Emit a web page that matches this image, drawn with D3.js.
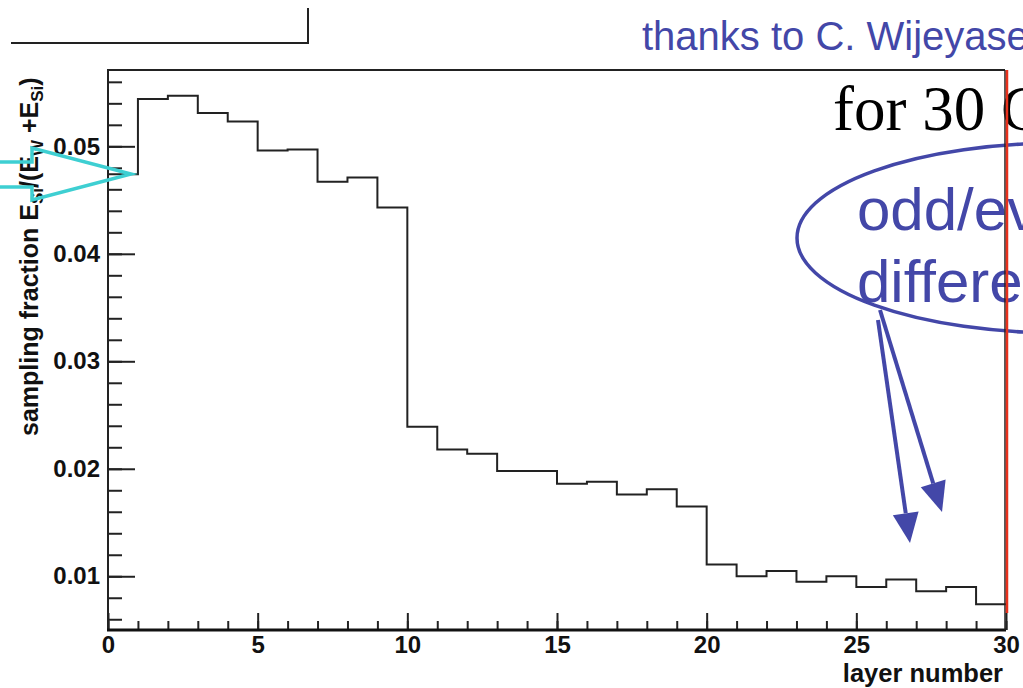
<!DOCTYPE html>
<html>
<head>
<meta charset="utf-8">
<script src="https://cdn.jsdelivr.net/npm/d3@7"></script>
<style>
  html, body { margin: 0; padding: 0; background: #fff; }
  svg { display: block; }
</style>
</head>
<body>
<svg id="chart" width="1023" height="688"></svg>
<script>
// layer index (lower bin edge) and sampling fraction per layer
var layers = d3.range(0, 30);
var samplingFraction = [
  0.0474, 0.0544, 0.0547, 0.0531, 0.0523, 0.0496, 0.0497, 0.0467, 0.0471, 0.0443,
  0.0239, 0.0218, 0.0214, 0.0198, 0.0198, 0.0186, 0.0188, 0.0176, 0.0181, 0.0165,
  0.0111, 0.0100, 0.0105, 0.0095, 0.0100, 0.0090, 0.0097, 0.0086, 0.0090, 0.0074
];
var xMajorTicks = [0, 5, 10, 15, 20, 25, 30];
var xMinorTicks = d3.range(0, 31);
var yMajorTicks = [0.01, 0.02, 0.03, 0.04, 0.05];
var yMinorTicks = d3.range(6, 57, 2).map(function (d) { return d / 1000; });

(function () {
  var svg = d3.select("#chart");
  var padL = 108, padR = 1006, padT = 70, padB = 630;
  var blue = "#4347a8";
  var font = "'Liberation Sans', Arial, Helvetica, sans-serif";

  var x = d3.scaleLinear().domain([0, 30]).range([padL, padR]);
  var y = d3.scaleLinear().domain([0.005, 0.0571]).range([padB, padT]);

  // frame
  svg.append("path")
    .attr("d", "M" + padL + "," + padB + "V" + padT + "H" + (padR - 1))
    .attr("fill", "none").attr("stroke", "#222").attr("stroke-width", 2);

  // histogram outline
  var steps = layers.map(function (l, i) { return [l, samplingFraction[i]]; });
  steps.push([30, samplingFraction[29]]);
  var line = d3.line()
    .x(function (d) { return x(d[0]); })
    .y(function (d) { return y(d[1]); })
    .curve(d3.curveStepAfter);
  svg.append("path")
    .datum(steps)
    .attr("d", line)
    .attr("fill", "none").attr("stroke", "#222").attr("stroke-width", 2);

  // axes
  function styleAxis(g) {
    g.select(".domain").remove();
    g.selectAll(".tick line").attr("stroke", "#222").attr("stroke-width", 2);
    g.selectAll(".tick text")
      .attr("font-family", font).attr("font-weight", "bold")
      .attr("font-size", 24).attr("fill", "#111");
  }

  svg.append("g").attr("transform", "translate(0," + padB + ")")
    .call(d3.axisBottom(x).tickValues(xMinorTicks).tickSize(-9).tickFormat(""))
    .call(styleAxis);
  svg.append("g").attr("transform", "translate(0," + padB + ")")
    .call(d3.axisBottom(x).tickValues(xMajorTicks).tickSize(-17).tickPadding(6).tickFormat(d3.format("d")))
    .call(styleAxis);

  svg.append("g").attr("transform", "translate(" + padL + ",0)")
    .call(d3.axisLeft(y).tickValues(yMinorTicks).tickSize(-14).tickFormat(""))
    .call(styleAxis);
  svg.append("g").attr("transform", "translate(" + padL + ",0)")
    .call(d3.axisLeft(y).tickValues(yMajorTicks).tickSize(-27).tickPadding(8).tickFormat(d3.format(".2f")))
    .call(styleAxis);

  svg.append("line")
    .attr("x1", padL - 1).attr("x2", padR).attr("y1", padB).attr("y2", padB)
    .attr("stroke", "#111").attr("stroke-width", 3);

  // axis titles
  svg.append("text")
    .attr("x", 1003).attr("y", 682)
    .attr("text-anchor", "end")
    .attr("font-family", font).attr("font-weight", "bold").attr("font-size", 25.5)
    .attr("fill", "#111")
    .text("layer number");

  var yt = svg.append("text")
    .attr("transform", "translate(38,436) rotate(-90)")
    .attr("font-family", font).attr("font-weight", "bold").attr("font-size", 25)
    .attr("fill", "#111");
  yt.append("tspan").text("sampling fraction E");
  yt.append("tspan").attr("font-size", 17).attr("dy", 5).text("Si");
  yt.append("tspan").attr("dy", -5).text("/(E");
  yt.append("tspan").attr("font-size", 17).attr("dy", 5).text("W");
  yt.append("tspan").attr("dy", -5).text(" +E");
  yt.append("tspan").attr("font-size", 17).attr("dy", 5).text("Si");
  yt.append("tspan").attr("dy", -5).text(")");

  // slide decorations
  svg.append("path")
    .attr("d", "M11,43H308V8")
    .attr("fill", "none").attr("stroke", "#222").attr("stroke-width", 2);

  svg.append("text")
    .attr("x", 642).attr("y", 50)
    .attr("font-family", font).attr("font-size", 40).attr("fill", blue)
    .text("thanks to C. Wijeyasekera");

  svg.append("text")
    .attr("x", 833).attr("y", 130)
    .attr("font-family", "'Liberation Serif', 'Times New Roman', serif")
    .attr("font-size", 63).attr("fill", "#000")
    .text("for 30 GeV");

  svg.append("ellipse")
    .attr("cx", 1061).attr("cy", 238).attr("rx", 264).attr("ry", 95)
    .attr("fill", "none").attr("stroke", blue).attr("stroke-width", 3.5);

  svg.append("text")
    .attr("x", 857).attr("y", 230)
    .attr("font-family", font).attr("font-size", 60).attr("fill", blue)
    .text("odd/even");
  svg.append("text")
    .attr("x", 857).attr("y", 302)
    .attr("font-family", font).attr("font-size", 60).attr("fill", blue)
    .text("difference");

  // red right edge, drawn over the annotation text as on the slide
  svg.append("line")
    .attr("x1", padR - 1).attr("x2", padR - 1).attr("y1", padT).attr("y2", padB)
    .attr("stroke", "#222").attr("stroke-width", 1.5);
  svg.append("line")
    .attr("x1", padR + 1).attr("x2", padR + 1).attr("y1", padT).attr("y2", padB - 17)
    .attr("stroke", "#e8311c").attr("stroke-width", 2.5);

  // pointer arrows
  var arrows = [
    { from: [878, 320], to: [910, 543] },
    { from: [880, 310], to: [942, 512] }
  ];
  arrows.forEach(function (a) {
    var dx = a.to[0] - a.from[0], dy = a.to[1] - a.from[1];
    var len = Math.sqrt(dx * dx + dy * dy);
    var ux = dx / len, uy = dy / len;
    var hl = 30, hw = 13;
    var bx = a.to[0] - ux * hl, by = a.to[1] - uy * hl;
    svg.append("line")
      .attr("x1", a.from[0]).attr("y1", a.from[1]).attr("x2", bx).attr("y2", by)
      .attr("stroke", blue).attr("stroke-width", 4);
    svg.append("path")
      .attr("d", "M" + a.to[0] + "," + a.to[1] +
        "L" + (bx - uy * hw) + "," + (by + ux * hw) +
        "L" + (bx + uy * hw) + "," + (by - ux * hw) + "Z")
      .attr("fill", blue);
  });

  // cyan hollow arrow pointing at layer 0
  svg.append("path")
    .attr("d", "M0,162H32V148L131,174L32,200V187H0")
    .attr("fill", "none").attr("stroke", "#3ecfd2").attr("stroke-width", 3.5)
    .attr("stroke-linejoin", "miter");
})();
</script>
</body>
</html>
